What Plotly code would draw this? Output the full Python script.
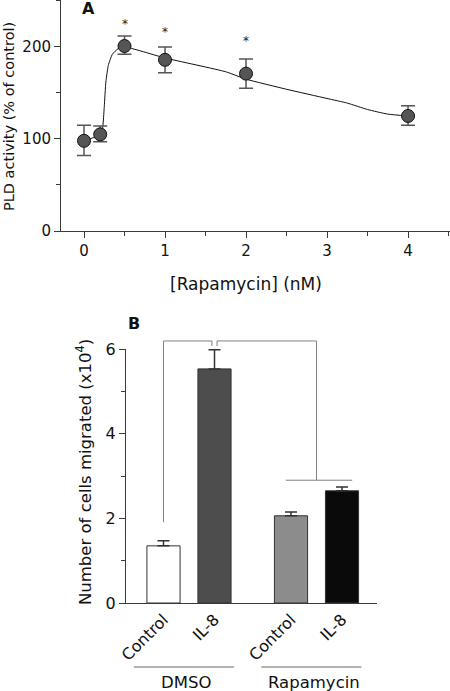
import plotly.graph_objects as go

# ---------------- Panel A data ----------------
rapa_nM = [0, 0.2, 0.5, 1, 2, 4]
pld_activity = [98, 105, 201, 186, 171, 125]
pld_err_plus = [17, 9, 11, 14, 16, 11]
pld_err_minus = [16, 8, 9, 14, 16, 10]
sig_x = [0.5, 1, 2]
sig_y = [225, 216, 206]
a_xticks = [0, 1, 2, 3, 4]
a_yticks = [0, 100, 200]

# fitted curve
fit_x = [0, 0.1, 0.2, 0.23, 0.25, 0.27, 0.3, 0.35, 0.42, 0.5, 1.0, 1.75, 2.0, 2.5, 3.0, 3.25, 3.5, 3.75, 4.0]
fit_y = [98, 101, 104, 112, 135, 162, 180, 192, 198, 200, 188, 173, 165, 154, 144, 139, 132, 127, 125]

# ---------------- Panel B data ----------------
bar_labels = ["Control", "IL-8", "Control", "IL-8"]
bar_pos = [0, 1, 2.5, 3.5]
cells_migrated = [1.35, 5.53, 2.06, 2.65]
cells_err = [0.12, 0.45, 0.09, 0.09]
bar_colors = ["#ffffff", "#4d4d4d", "#8c8c8c", "#0a0a0a"]
group_names = ["DMSO", "Rapamycin"]
group_centers = [0.5, 3.0]
b_yticks = [0, 2, 4, 6]

FONT = "DejaVu Sans, sans-serif"
AX = "#3a3a3a"
W, H = 450, 691

def px(xp):
    return xp / W
def py(yp):
    return 1 - yp / H

def ann(**kw):
    d = dict(showarrow=False, xanchor="center", yanchor="middle")
    d.update(kw)
    return d

fig = go.Figure()

# Panel A
fig.add_trace(go.Scatter(x=fit_x, y=fit_y, mode="lines",
                         line=dict(color="#111", width=1, shape="spline", smoothing=0.5),
                         xaxis="x", yaxis="y", showlegend=False, hoverinfo="skip"))
fig.add_trace(go.Scatter(x=rapa_nM, y=pld_activity, mode="markers",
                         marker=dict(size=13, color="#555555", line=dict(color="#111", width=1)),
                         error_y=dict(type="data", symmetric=False, array=pld_err_plus, arrayminus=pld_err_minus,
                                      color="#555555", thickness=1.5, width=7),
                         xaxis="x", yaxis="y", showlegend=False))

# Panel B
fig.add_trace(go.Bar(x=bar_pos, y=cells_migrated, width=0.65,
                     marker=dict(color=bar_colors, line=dict(color="#333333", width=1)),
                     error_y=dict(type="data", symmetric=False, array=cells_err, arrayminus=[0] * 4,
                                  color="#333333", thickness=1.5, width=6),
                     xaxis="x2", yaxis="y2", showlegend=False))

annotations = []
for sx, sy in zip(sig_x, sig_y):
    annotations.append(ann(x=sx, y=sy, xref="x", yref="y", text="*",
                           font=dict(size=12, color="#222222", family=FONT)))
annotations.append(ann(x=px(88), y=py(9), xref="paper", yref="paper", text="<b>A</b>",
                       font=dict(size=16, color="#111", family=FONT)))
annotations.append(ann(x=px(134), y=py(324), xref="paper", yref="paper", text="<b>B</b>",
                       font=dict(size=16, color="#111", family=FONT)))
# axis titles
annotations.append(ann(x=px(9), y=py(117), xref="paper", yref="paper", text="PLD activity (% of control)",
                       textangle=-90, font=dict(size=14.5, color="#111", family=FONT)))
annotations.append(ann(x=px(246), y=py(284), xref="paper", yref="paper", text="[Rapamycin] (nM)",
                       font=dict(size=17, color="#111", family=FONT)))
annotations.append(ann(x=px(84), y=py(472), xref="paper", yref="paper",
                       text="Number of cells migrated (x10<sup>4</sup>)",
                       textangle=-90, font=dict(size=16.5, color="#111", family=FONT)))
# significance marks in B
annotations.append(ann(x=0.42, y=6.5, xref="x2", yref="y2", text="*",
                       font=dict(size=10, color="#444", family=FONT)))
annotations.append(ann(x=1.9, y=6.48, xref="x2", yref="y2", text="#",
                       font=dict(size=9, color="#444", family=FONT)))
for gname, gc in zip(group_names, group_centers):
    annotations.append(ann(x=gc - 0.05, y=py(682), xref="x2", yref="paper", text=gname,
                           font=dict(size=16.5, color="#111", family=FONT)))

# bracket shapes in panel B (domain coordinates derived from data)
xr2 = [-0.735, 4.186]
yr2 = [0, 6]
def fx(v):
    return (v - xr2[0]) / (xr2[1] - xr2[0])
def fy(v):
    return (v - yr2[0]) / (yr2[1] - yr2[0])

BR = "#808080"
shapes = []
top = 6.19
notch = 6.07
shapes.append(dict(type="path", xref="x2 domain", yref="y2 domain",
                   path=f"M {fx(bar_pos[0])} {fy(1.91)} L {fx(bar_pos[0])} {fy(top)} L {fx(bar_pos[1]-0.05)} {fy(top)} L {fx(bar_pos[1]-0.05)} {fy(notch)}",
                   line=dict(color=BR, width=1)))
shapes.append(dict(type="path", xref="x2 domain", yref="y2 domain",
                   path=f"M {fx(bar_pos[1]+0.05)} {fy(notch)} L {fx(bar_pos[1]+0.05)} {fy(top)} L {fx(group_centers[1])} {fy(top)} L {fx(group_centers[1])} {fy(2.9)}",
                   line=dict(color=BR, width=1)))
shapes.append(dict(type="line", xref="x2 domain", yref="y2 domain",
                   x0=fx(bar_pos[2] - 0.1), x1=fx(bar_pos[3] + 0.2), y0=fy(2.9), y1=fy(2.9),
                   line=dict(color=BR, width=1)))
for gc in group_centers:
    shapes.append(dict(type="line", xref="x2 domain", yref="paper",
                       x0=fx(gc - 1.08), x1=fx(gc + 0.88), y0=py(667), y1=py(667),
                       line=dict(color="#999999", width=1.3)))

common = dict(showline=True, linecolor=AX, linewidth=1, showgrid=False, zeroline=False, automargin=False)

fig.update_layout(
    width=W, height=H,
    margin=dict(l=0, r=0, t=0, b=0),
    paper_bgcolor="white", plot_bgcolor="white",
    font=dict(family=FONT, color="#111", size=15),
    annotations=annotations, shapes=shapes,
    xaxis=dict(domain=[px(61), 1], range=[-0.284, 4.518], anchor="y",
               tickvals=a_xticks, ticks="outside", ticklen=6, tickcolor=AX,
               minor=dict(ticks="outside", ticklen=4, dtick=0.5, tick0=0, tickcolor=AX),
               tickfont=dict(size=15), **common),
    yaxis=dict(domain=[py(231), 1], range=[0, 251], anchor="x",
               tickvals=a_yticks, ticks="outside", ticklen=6, tickcolor=AX,
               minor=dict(ticks="outside", ticklen=4, dtick=50, tick0=0, tickcolor=AX),
               tickfont=dict(size=15), **common),
    xaxis2=dict(domain=[px(126), px(377)], range=xr2, anchor="y2",
                tickvals=bar_pos, ticktext=bar_labels, tickangle=-45, ticks="",
                tickfont=dict(size=16), **common),
    yaxis2=dict(domain=[py(603), py(349)], range=yr2, anchor="x2",
                tickvals=b_yticks, ticks="outside", ticklen=6, tickcolor=AX,
                minor=dict(ticks="outside", ticklen=4, dtick=1, tick0=0, tickcolor=AX),
                tickfont=dict(size=16), **common),
)

fig.write_html("out.html", config={"displayModeBar": False},
               post_script="document.body.style.margin='0';")
